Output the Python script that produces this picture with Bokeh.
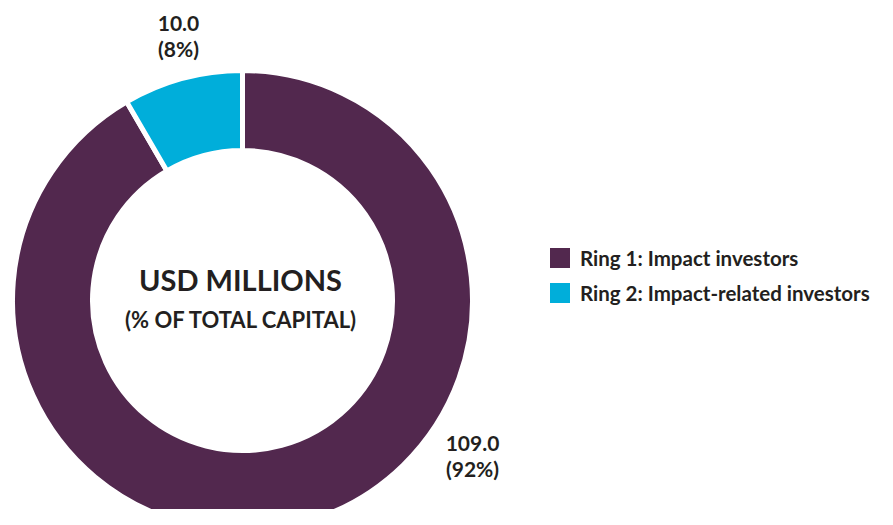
import math
from bokeh.plotting import figure
from bokeh.models import Range1d, Legend, LegendItem, ColumnDataSource
from bokeh.core.properties import value
from bokeh.embed import file_html
from bokeh.resources import INLINE

# ---- data ----
categories = ["Ring 1: Impact investors", "Ring 2: Impact-related investors"]
values = [109.0, 10.0]
colors = ["#52284E", "#00AEDA"]
center_title = "USD MILLIONS"
center_sub = "(% OF TOTAL CAPITAL)"

FONT = "Lato"
TXT = "#231F20"

W, H = 877, 509
p = figure(width=W, height=H, output_backend="svg", toolbar_location=None,
           x_range=Range1d(0, W), y_range=Range1d(0, H),
           min_border=0, outline_line_color=None, background_fill_color="white",
           border_fill_color="white")
p.axis.visible = False
p.grid.visible = False


def Y(img_y):
    return H - img_y


cx, cy = 242, Y(300)
r_in, r_out = 150, 230

total = sum(values)
fracs = [v / total for v in values]
# Ring 2 starts at 12 o'clock going counter-clockwise; Ring 1 takes the rest
a_top = math.pi / 2
ring2_end = a_top + 2 * math.pi * fracs[1]
starts = [ring2_end, a_top]
ends = [a_top + 2 * math.pi, ring2_end]

src = ColumnDataSource(dict(x=[cx, cx], y=[cy, cy], start=starts, end=ends, color=colors))
p.annular_wedge(x="x", y="y", inner_radius=r_in, outer_radius=r_out,
                start_angle="start", end_angle="end", fill_color="color",
                line_color="white", line_width=5, source=src)

# value labels
lab_pos = [(472, 443), (178, 23)]
for (lx, ly), v, f in zip(lab_pos, values, fracs):
    p.text(x=[lx], y=[Y(ly)], text=[f"{v:.1f}"], text_align="center", text_baseline="middle",
           text_font=value(FONT), text_font_style="bold", text_font_size="21px", text_color=TXT)
    p.text(x=[lx], y=[Y(ly + 25)], text=[f"({f*100:.0f}%)"], text_align="center", text_baseline="middle",
           text_font=value(FONT), text_font_style="bold", text_font_size="21px", text_color=TXT)

# center text
p.text(x=[cx - 2], y=[Y(279)], text=[center_title], text_align="center", text_baseline="middle",
       text_font=value(FONT), text_font_style="bold", text_font_size="29px", text_color=TXT)
p.text(x=[cx - 1], y=[Y(319)], text=[center_sub], text_align="center", text_baseline="middle",
       text_font=value(FONT), text_font_style="bold", text_font_size="22px", text_color=TXT)

# legend (zero-area helper quads supply the swatch colours)
items = []
for cat, col in zip(categories, colors):
    r = p.quad(left=[cx], right=[cx], top=[cy], bottom=[cy], fill_color=col, line_color=None)
    items.append(LegendItem(label=cat, renderers=[r]))
leg = Legend(items=items, location=(547, H - 305), glyph_width=25, glyph_height=25,
             label_standoff=8, spacing=10, padding=0, margin=0,
             border_line_color=None, background_fill_alpha=0,
             label_text_font=FONT, label_text_font_style="bold",
             label_text_font_size="20.5px", label_text_color=TXT, label_height=25)
p.add_layout(leg, "center")

open("out.html", "w").write(file_html(p, INLINE))
